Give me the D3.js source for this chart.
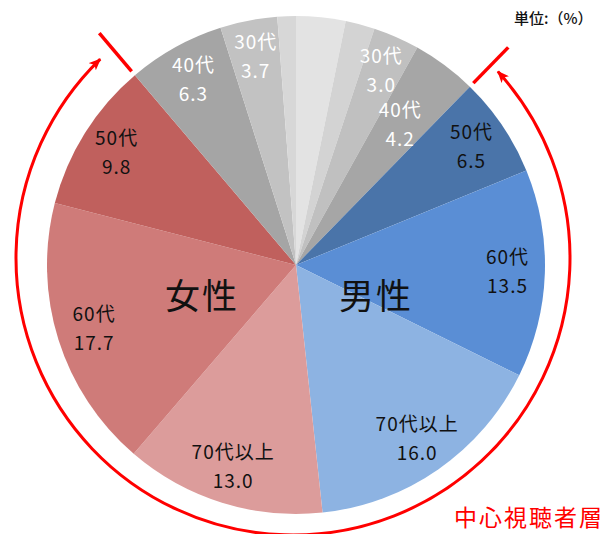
<!DOCTYPE html>
<html lang="ja">
<head>
<meta charset="utf-8">
<script src="https://cdn.jsdelivr.net/npm/d3@7"></script>
<style>
  html, body { margin: 0; padding: 0; background: #fff; }
  svg { display: block; font-family: "Noto Sans CJK JP", "Noto Sans", sans-serif; }
  .seg-label { font-size: 19px; letter-spacing: 1px; }
  .gender { font-size: 35px; letter-spacing: 2px; }
</style>
</head>
<body>
<div id="chart"></div>
<script>
// Audience composition by gender x age (unit: %). Slices run clockwise from 12 o'clock:
// men first (youngest -> oldest), then women (oldest -> youngest).
const segments = ["男性10代", "男性20代", "男性30代", "男性40代", "男性50代", "男性60代", "男性70代以上",
                  "女性70代以上", "女性60代", "女性50代", "女性40代", "女性30代", "女性20代"];
const ageLabels = ["", "", "30代", "40代", "50代", "60代", "70代以上",
                   "70代以上", "60代", "50代", "40代", "30代", ""];
const shares = [3.2, 1.9, 3.0, 4.2, 6.5, 13.5, 16.0,
                13.0, 17.7, 9.8, 6.3, 3.7, 1.2];
const sliceColors = ["#e3e3e3", "#d3d3d3", "#c0c0c0", "#a6a6a6", "#4a74a9", "#5a8ed5", "#8db3e2",
                     "#dc9c9b", "#cf7b79", "#c0605d", "#a5a5a5", "#c2c2c2", "#d7d7d7"];
const genderNames = ["女性", "男性"];
const unitText = "単位:（%）";
const coreText = "中心視聴者層";
// the "core audience" bracket spans from the male 40/50 boundary round to the female 50/40 boundary
const coreFrom = "男性50代", coreTo = "女性50代";

const width = 610, height = 534;
const cx = 296, cy = 265, R = 249;
const RED = "#ff0000";

const svg = d3.select("#chart").append("svg")
  .attr("width", width).attr("height", height)
  .attr("viewBox", `0 0 ${width} ${height}`);

const rows = segments.map((name, i) => ({ name, label: ageLabels[i], value: shares[i], color: sliceColors[i], i }));
const arcs = d3.pie().sort(null).value((d) => d.value)(rows);
const arc = d3.arc().innerRadius(0).outerRadius(R);

const g = svg.append("g").attr("transform", `translate(${cx},${cy})`);
g.selectAll("path.slice").data(arcs).join("path")
  .attr("class", "slice")
  .attr("d", arc)
  .attr("fill", (d) => d.data.color);

// Value labels: two lines (age / share). Gray slices get white text.
const labelR = (d) => (d.data.name === "男性40代" ? 0.7 * R : 0.85 * R);
const grayish = (d) => d3.hsl(d.data.color).s < 0.05;
const lab = g.selectAll("text.seg-label").data(arcs.filter((d) => d.data.label)).join("text")
  .attr("class", "seg-label")
  .attr("text-anchor", "middle")
  .attr("fill", (d) => (grayish(d) ? "#fff" : "#111"))
  .attr("transform", (d) => {
    const a = (d.startAngle + d.endAngle) / 2, r = labelR(d);
    return `translate(${r * Math.sin(a)},${-r * Math.cos(a)})`;
  });
lab.append("tspan").attr("x", 0).attr("y", -8).text((d) => d.data.label);
lab.append("tspan").attr("x", 0).attr("y", 21).text((d) => d.data.value.toFixed(1));

// Gender captions
g.append("text").attr("class", "gender").attr("text-anchor", "middle")
  .attr("x", -94).attr("y", 44).attr("fill", "#111").text(genderNames[0]);
g.append("text").attr("class", "gender").attr("text-anchor", "middle")
  .attr("x", 80).attr("y", 44).attr("fill", "#111").text(genderNames[1]);

// Core audience bracket: two radial ticks + a circular arc with arrowheads at both ends.
const byName = new Map(arcs.map((d) => [d.data.name, d]));
const tickAngles = [byName.get(coreFrom).startAngle, byName.get(coreTo).endAngle];
g.selectAll("line.core-tick").data(tickAngles).join("line")
  .attr("class", "core-tick")
  .attr("x1", (a) => 254 * Math.sin(a)).attr("y1", (a) => -254 * Math.cos(a))
  .attr("x2", (a) => 304 * Math.sin(a)).attr("y2", (a) => -304 * Math.cos(a))
  .attr("stroke", RED).attr("stroke-width", 3.5);

svg.append("defs").append("marker")
  .attr("id", "arrow").attr("viewBox", "0 0 12 10")
  .attr("refX", 11).attr("refY", 5)
  .attr("markerWidth", 12).attr("markerHeight", 10)
  .attr("markerUnits", "userSpaceOnUse")
  .attr("orient", "auto-start-reverse")
  .append("path").attr("d", "M0,0 L12,5 L0,10 L3,5 Z").attr("fill", RED);

const deg = Math.PI / 180;
const arcCx = 293, arcCy = 258, arcR = 277;
const p = d3.path();
const a0 = 47.7 * deg - Math.PI / 2, a1 = 315.9 * deg - Math.PI / 2;
p.arc(arcCx, arcCy, arcR, a0, a1, false);
svg.append("path")
  .attr("d", p.toString())
  .attr("fill", "none").attr("stroke", RED).attr("stroke-width", 3)
  .attr("marker-start", "url(#arrow)").attr("marker-end", "url(#arrow)");

// Unit note and core caption
svg.append("text").attr("x", 514).attr("y", 24)
  .attr("font-size", 15).attr("font-weight", 500).attr("fill", "#111").text(unitText);
svg.append("text").attr("x", 454).attr("y", 526)
  .attr("font-size", 23).attr("letter-spacing", 2).attr("fill", RED).text(coreText);
</script>
</body>
</html>
